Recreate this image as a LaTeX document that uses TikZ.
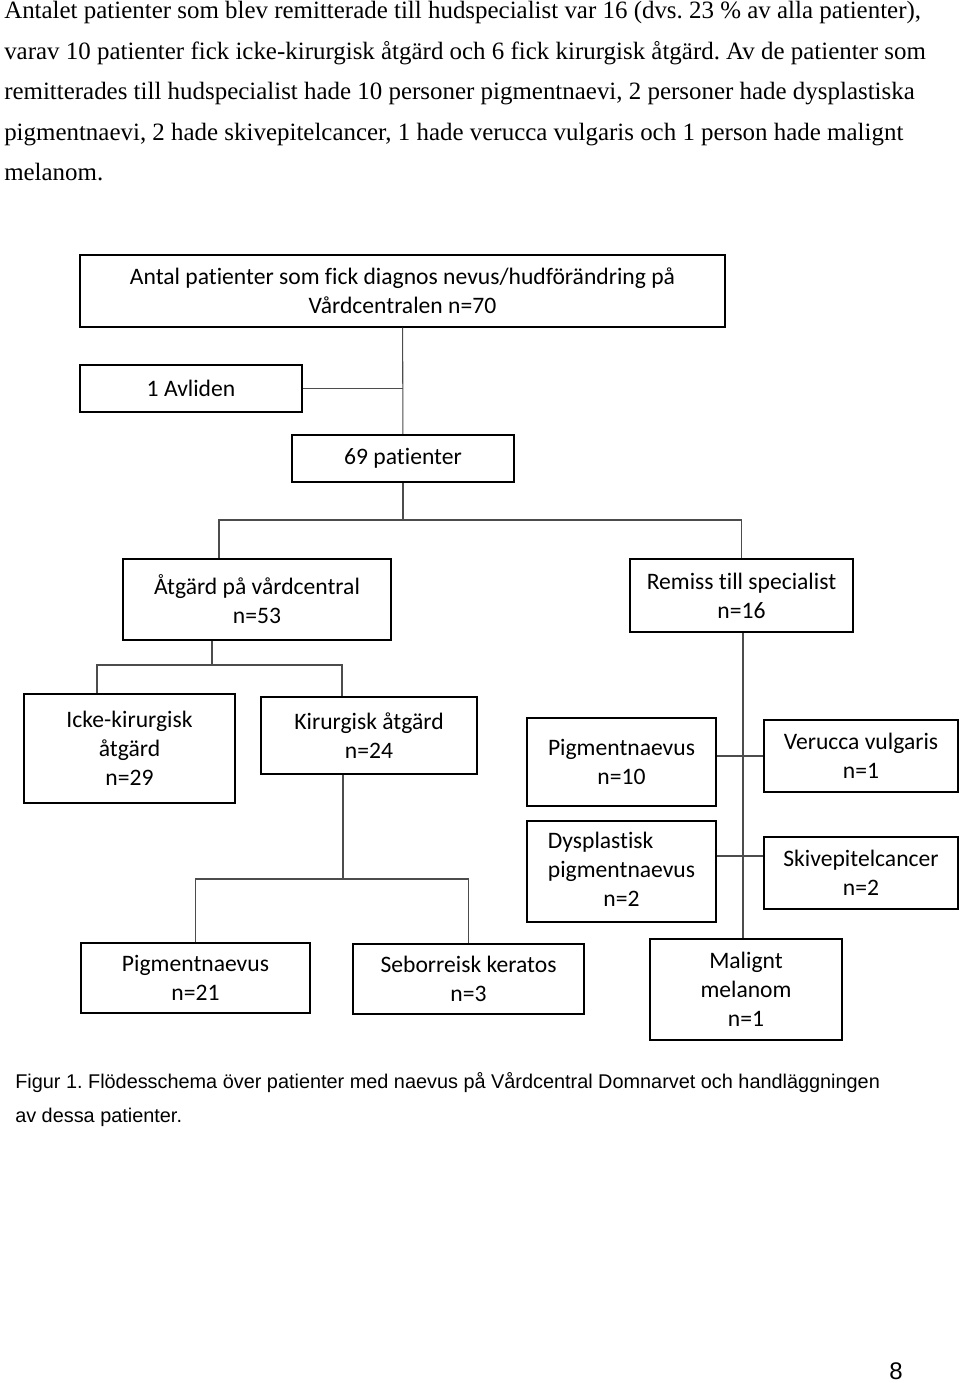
\documentclass[tikz,border=0pt]{standalone}
\usepackage{fontspec}
\setmainfont{Liberation Serif}
\newfontfamily\boxfont[Ligatures=NoCommon]{Carlito}
\newfontfamily\capfont{Liberation Sans}
\usepackage{tikz}
\usetikzlibrary{
    calc,
}
\frenchspacing
\tikzset{
    block/.style = {
        rectangle,
        inner sep=0pt,
        align=center,
        line width=1.5pt,
        draw,
        font=\boxfont\fontsize{17.7}{21.75}\selectfont,
    },
    thinblock/.style = {
        block,
        line width=1pt,
    },
    bodyline/.style = {
        anchor=base west,
        inner sep=0pt,
        font=\fontsize{18.7}{22}\selectfont,
    },
    captionline/.style = {
        anchor=base west,
        inner sep=0pt,
        font=\capfont\fontsize{14.9}{18}\selectfont,
    },
}
\tikzstyle{link} = [
    line width=0.8pt,
    draw=black!70,
]

\begin{document}
\begin{tikzpicture}[x=0.75pt, y=-0.75pt]
        \useasboundingbox (0,0) rectangle (960,1383);

        % text above the chart
        \node [bodyline] (bodyA) at (4,19)
        {Antalet patienter som blev remitterade till hudspecialist var 16 (dvs. 23 \% av alla patienter),};
        \node [bodyline] (bodyB) at (4,59.5)
        {varav 10 patienter fick icke-kirurgisk åtgärd och 6 fick kirurgisk åtgärd. Av de patienter som};
        \node [bodyline] (bodyC) at (4,100)
        {remitterades till hudspecialist hade 10 personer pigmentnaevi, 2 personer hade dysplastiska};
        \node [bodyline] (bodyD) at (4,140.5)
        {pigmentnaevi, 2 hade skivepitelcancer, 1 hade verucca vulgaris och 1 person hade malignt};
        \node [bodyline] (bodyE) at (4,181)
        {melanom.};

        \node [thinblock, minimum width=483.75pt, minimum height=54pt] (allPatients) at (402.5,291)
        {Antal patienter som fick diagnos nevus/hudförändring på\\Vårdcentralen n=70};

        \node [block, minimum width=166.5pt, minimum height=35.25pt] (deceased) at (191,388.5)
        {1 Avliden};

        \node [block, minimum width=166.5pt, minimum height=35.25pt] (remaining) at (403,458.5)
        {69 patienter};

        \node [thinblock, minimum width=201pt, minimum height=60.75pt] (primaryCare) at (257,599.5)
        {Åtgärd på vårdcentral\\n=53};

        \node [block, minimum width=167.25pt, minimum height=54.75pt] (referral) at (741.5,595.5)
        {Remiss till specialist\\n=16};

        \node [block, minimum width=158.25pt, minimum height=81.75pt] (nonSurgical) at (129.5,748.5)
        {Icke-kirurgisk\\åtgärd\\n=29};

        \node [block, minimum width=162pt, minimum height=57.75pt] (surgical) at (369,735.5)
        {Kirurgisk åtgärd\\n=24};

        \node [block, minimum width=171.75pt, minimum height=52.5pt] (surgNaevus) at (195.5,978)
        {Pigmentnaevus\\n=21};

        \node [block, minimum width=173.25pt, minimum height=52.5pt] (surgKeratos) at (468.5,979)
        {Seborreisk keratos\\n=3};

        \node [thinblock, minimum width=141.75pt, minimum height=66pt] (refNaevus) at (621.5,762)
        {Pigmentnaevus\\n=10};

        \node [thinblock, minimum width=145.5pt, minimum height=54pt] (refVerucca) at (861,756)
        {Verucca vulgaris\\n=1};

        \node [thinblock, minimum width=141.75pt, minimum height=75.75pt] (refDysplastic) at (621.5,871.5)
        {\begin{tabular}{@{}l@{}}Dysplastisk\\pigmentnaevus\\\multicolumn{1}{@{}c@{}}{n=2}\end{tabular}};

        \node [thinblock, minimum width=145.5pt, minimum height=54pt] (refCarcinoma) at (861,873)
        {Skivepitelcancer\\n=2};

        \node [thinblock, minimum width=144pt, minimum height=75.75pt] (refMelanoma) at (746,989.5)
        {Malignt\\melanom\\n=1};

        % junction points
        \coordinate (forkTop) at (403,520);
        \coordinate (forkCareL) at (97,665);
        \coordinate (forkCare) at (212,665);
        \coordinate (forkCareR) at (342,665);
        \coordinate (forkSurg) at (343,879);
        \coordinate (trunk) at (743,780);

        \draw [link] (allPatients) -- (remaining);
        \draw [link] (deceased.east) -- (deceased.east -| allPatients.south);
        \draw [link] (remaining) -- (forkTop);
        \draw [link] (primaryCare.north -| 219,0) |- (forkTop) -| (referral.north);
        \draw [link] (primaryCare.south -| forkCare) -- (forkCare);
        \draw [link] (nonSurgical.north -| forkCareL) -- (forkCareL) -- (forkCareR) -- (surgical.north -| forkCareR);
        \draw [link] (surgical.south -| forkSurg) -- (forkSurg);
        \draw [link] (surgNaevus.north) |- (forkSurg) -| (surgKeratos.north);
        \draw [link] (referral.south -| trunk) -- (refMelanoma.north -| trunk);
        \draw [link] (refNaevus.east |- refVerucca.west) -- (refVerucca.west);
        \draw [link] (refDysplastic.east |- 0,856) -- (refCarcinoma.west |- 0,856);

        % caption and page number
        \node [captionline] (captionA) at (15,1088)
        {Figur 1. Flödesschema över patienter med naevus på Vårdcentral Domnarvet och handläggningen};
        \node [captionline] (captionB) at (15,1122)
        {av dessa patienter.};
        \node [inner sep=0pt, font=\capfont\fontsize{18}{20}\selectfont] (pageNumber) at (896,1371)
        {8};

    \end{tikzpicture}
\end{document}
